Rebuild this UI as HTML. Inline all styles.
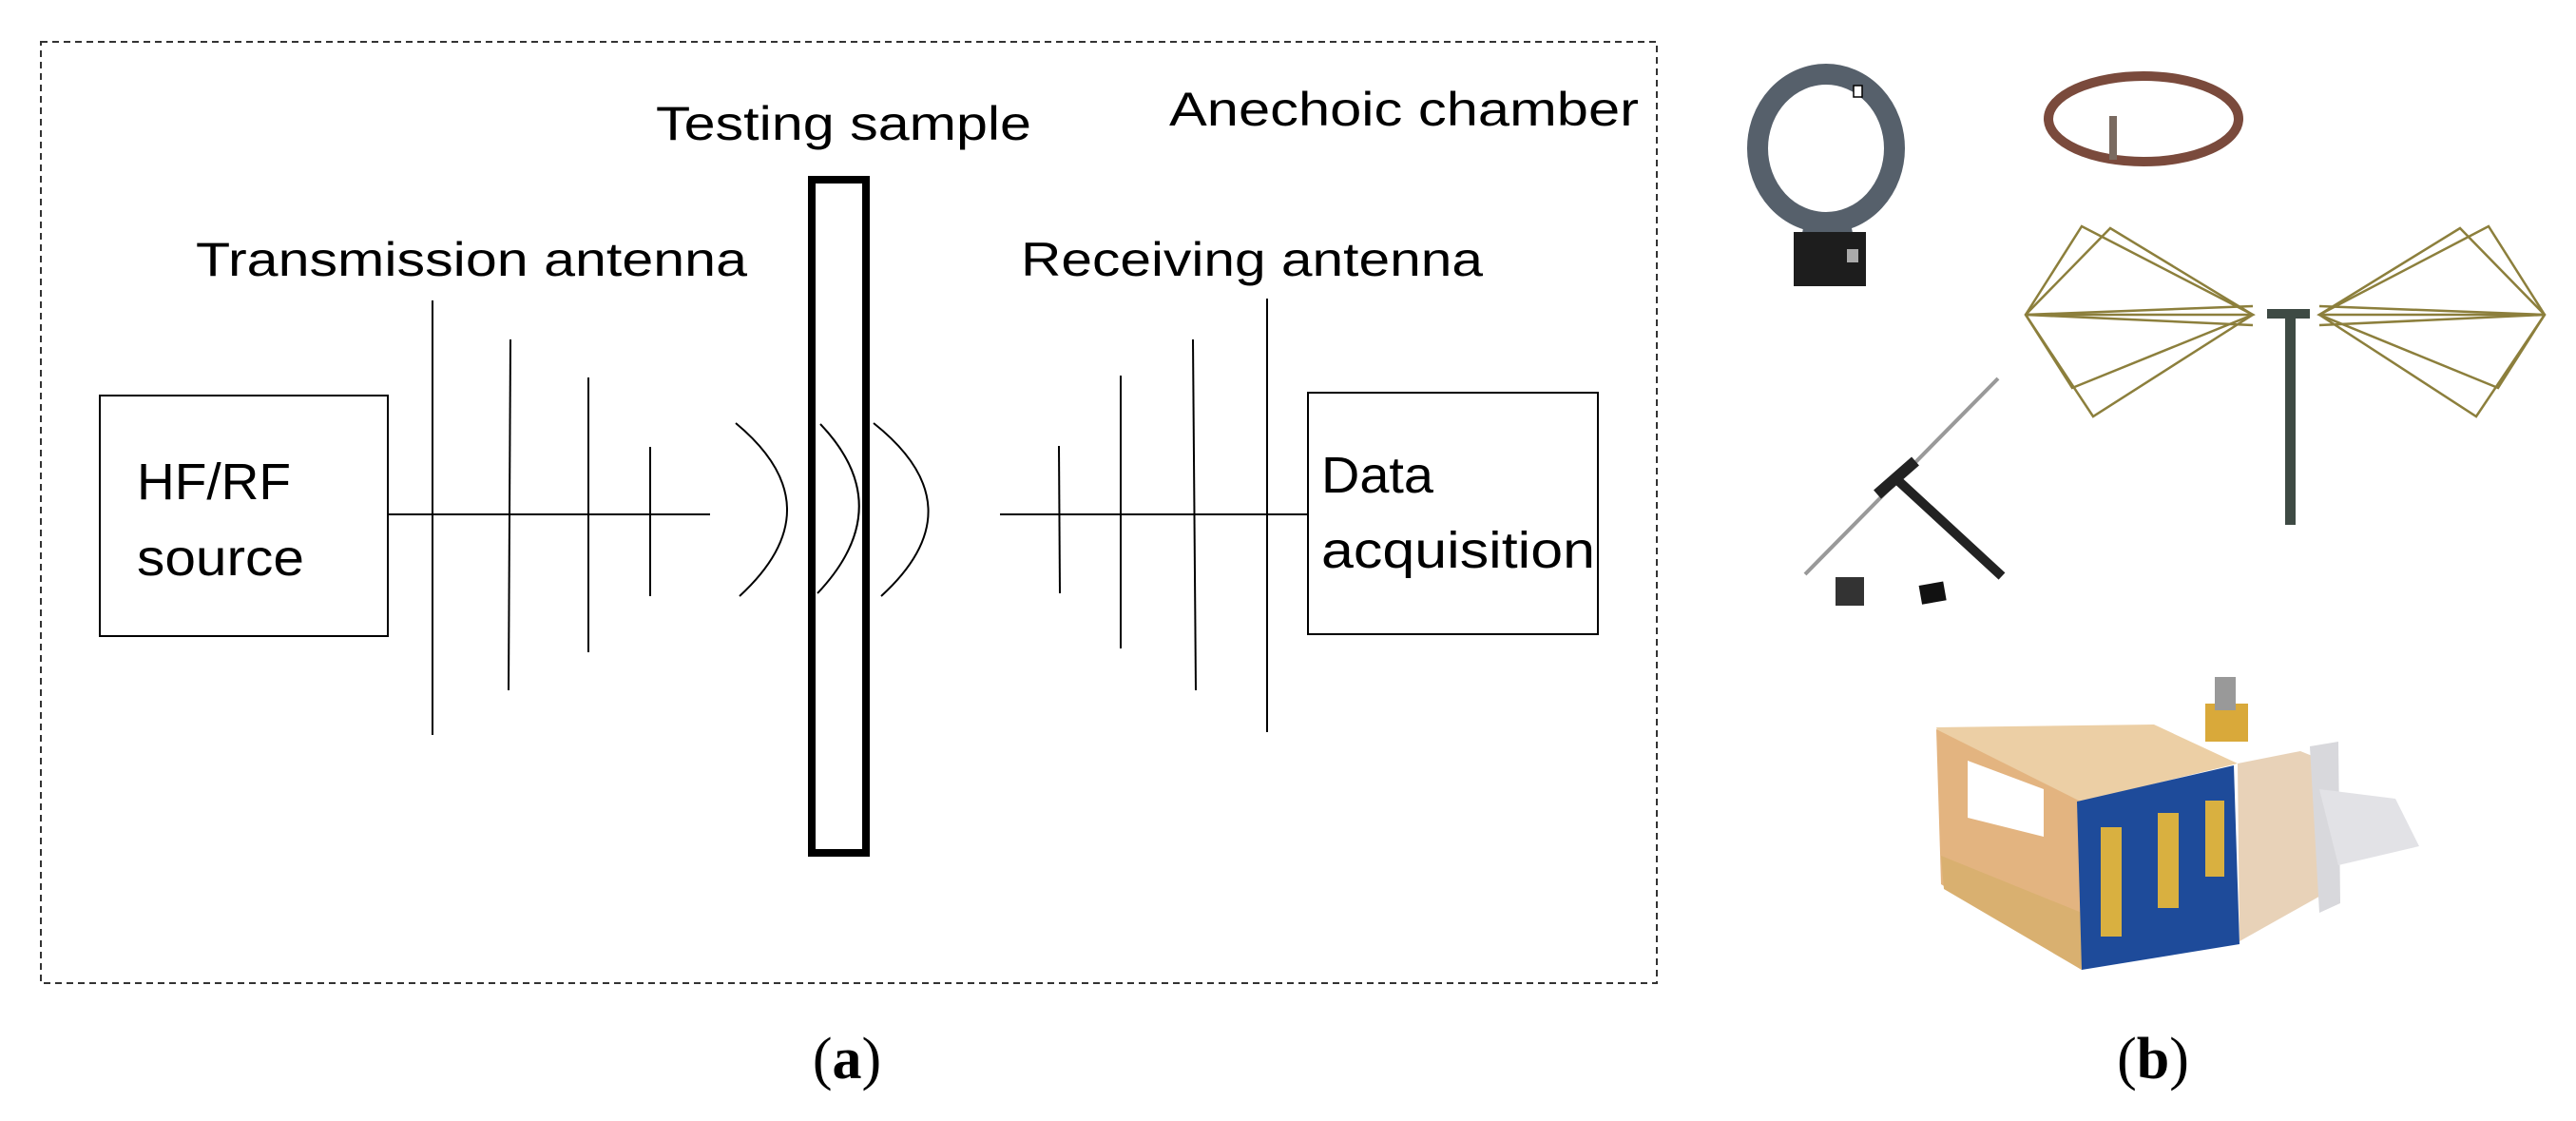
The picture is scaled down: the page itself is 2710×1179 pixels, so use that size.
<!DOCTYPE html>
<html><head><meta charset="utf-8"><style>
html,body{margin:0;padding:0;background:#fff;}
svg{display:block;}
text{font-family:"Liberation Sans",sans-serif;}
</style></head><body>
<svg width="2710" height="1179" viewBox="0 0 2710 1179" xmlns="http://www.w3.org/2000/svg">
<rect width="2710" height="1179" fill="#fff"/>
<!-- panel a -->
<rect x="43" y="44" width="1700" height="990" fill="none" stroke="#333" stroke-width="2" stroke-dasharray="7,5"/>
<g fill="#000" font-size="50">
<text x="1230" y="132" textLength="494" lengthAdjust="spacingAndGlyphs">Anechoic chamber</text>
<text x="690" y="147" textLength="395" lengthAdjust="spacingAndGlyphs">Testing sample</text>
<text x="206" y="290" textLength="580" lengthAdjust="spacingAndGlyphs">Transmission antenna</text>
<text x="1074" y="290" textLength="486" lengthAdjust="spacingAndGlyphs">Receiving antenna</text>
<text x="144" y="525" font-size="54" textLength="162" lengthAdjust="spacingAndGlyphs">HF/RF</text>
<text x="144" y="605" font-size="54" textLength="176" lengthAdjust="spacingAndGlyphs">source</text>
<text x="1390" y="518" font-size="54" textLength="118" lengthAdjust="spacingAndGlyphs">Data</text>
<text x="1390" y="597" font-size="54" textLength="288" lengthAdjust="spacingAndGlyphs">acquisition</text>
</g>
<rect x="854" y="189" width="57" height="708" fill="none" stroke="#000" stroke-width="8"/>
<rect x="105" y="416" width="303" height="253" fill="none" stroke="#000" stroke-width="2"/>
<rect x="1376" y="413" width="305" height="254" fill="none" stroke="#000" stroke-width="2"/>
<g stroke="#000" stroke-width="2" fill="none">
<line x1="408" y1="541" x2="747" y2="541"/>
<line x1="1052" y1="541" x2="1376" y2="541"/>
<line x1="455" y1="316" x2="455" y2="773"/>
<line x1="537" y1="357" x2="535" y2="726"/>
<line x1="619" y1="397" x2="619" y2="686"/>
<line x1="684" y1="470" x2="684" y2="627"/>
<line x1="1114" y1="469" x2="1115" y2="624"/>
<line x1="1179" y1="395" x2="1179" y2="682"/>
<line x1="1255" y1="357" x2="1258" y2="726"/>
<line x1="1333" y1="314" x2="1333" y2="770"/>
<path d="M774,445 Q880,533 778,627"/>
<path d="M863,446 Q946,533 860,624"/>
<path d="M919,445 Q1030,533 927,627"/>
</g>
<text x="891" y="1134" font-size="62" text-anchor="middle" style="font-family:'Liberation Serif',serif">(<tspan font-weight="bold">a</tspan>)</text>
<!-- panel b -->
<!-- loop antenna -->
<polygon points="1900,225 1945,225 1950,250 1895,250" fill="#56606b"/>
<ellipse cx="1921" cy="156" rx="72" ry="78" fill="none" stroke="#56606b" stroke-width="22"/>
<rect x="1887" y="244" width="76" height="57" fill="#1d1d1d"/>
<rect x="1943" y="262" width="12" height="14" fill="#aaa"/>
<rect x="1950" y="90" width="9" height="12" fill="#fff" stroke="#000" stroke-width="1.5"/>
<!-- copper ring -->
<ellipse cx="2255" cy="125" rx="100" ry="45" fill="none" stroke="#7a4a3c" stroke-width="10"/>
<rect x="2219" y="122" width="8" height="46" fill="#7a6a60"/>
<!-- biconical -->
<g stroke="#8c7f3c" stroke-width="2.5" fill="none">
<polygon points="2131,331 2190,238 2370,331 2202,438"/>
<polygon points="2131,331 2220,240 2370,331 2180,408"/>
<line x1="2131" y1="331" x2="2370" y2="331"/>
<line x1="2131" y1="331" x2="2370" y2="322"/>
<line x1="2131" y1="331" x2="2370" y2="342"/>
<polygon points="2677,331 2618,238 2440,331 2605,438"/>
<polygon points="2677,331 2588,240 2440,331 2628,408"/>
<line x1="2677" y1="331" x2="2440" y2="331"/>
<line x1="2677" y1="331" x2="2440" y2="322"/>
<line x1="2677" y1="331" x2="2440" y2="342"/>
</g>
<rect x="2385" y="325" width="45" height="10" fill="#3e4a44"/>
<rect x="2404" y="331" width="11" height="221" fill="#3e4a44"/>
<!-- dipole -->
<line x1="1899" y1="604" x2="2102" y2="398" stroke="#999" stroke-width="4"/>
<line x1="1992" y1="501" x2="2106" y2="606" stroke="#222" stroke-width="10"/>
<line x1="1975" y1="520" x2="2015" y2="485" stroke="#222" stroke-width="12"/>
<rect x="1931" y="607" width="30" height="30" fill="#333"/>
<rect x="2020" y="614" width="26" height="20" fill="#111" transform="rotate(-10 2031 623)"/>
<!-- waveguide horn -->
<polygon points="2354,803 2420,790 2445,800 2445,940 2356,990" fill="#e8d2b8"/>
<polygon points="2430,785 2460,780 2462,950 2440,960" fill="#d8d8dc"/>
<polygon points="2440,830 2520,840 2545,890 2460,910" fill="#e2e2e6"/>
<rect x="2320" y="740" width="45" height="40" fill="#d9a93a"/>
<rect x="2330" y="712" width="22" height="35" fill="#999"/>
<polygon points="2037,765 2266,762 2354,803 2189,843 2040,775" fill="#eccfa5"/>
<polygon points="2037,767 2189,843 2190,1020 2042,930" fill="#e3b480"/>
<polygon points="2070,800 2150,830 2150,880 2070,860" fill="#fff"/>
<polygon points="2042,900 2190,960 2190,1020 2045,935" fill="#d9b070"/>
<polygon points="2185,843 2350,805 2356,993 2190,1020" fill="#1e4b9a"/>
<rect x="2210" y="870" width="22" height="115" fill="#d9b040"/>
<rect x="2270" y="855" width="22" height="100" fill="#d9b040"/>
<rect x="2320" y="842" width="20" height="80" fill="#d9b040"/>
<text x="2265" y="1134" font-size="62" text-anchor="middle" style="font-family:'Liberation Serif',serif">(<tspan font-weight="bold">b</tspan>)</text>
</svg>
</body></html>
